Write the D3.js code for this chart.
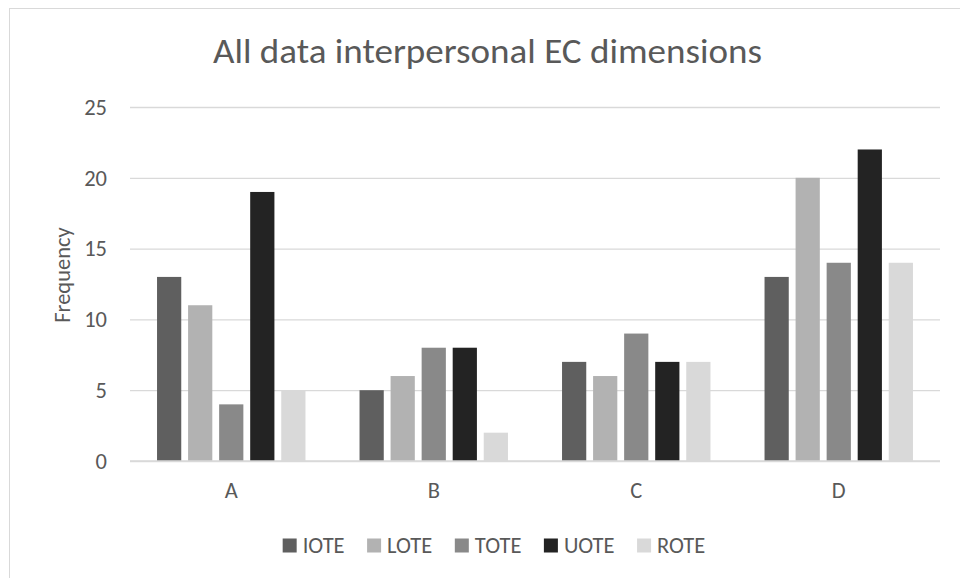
<!DOCTYPE html>
<html>
<head>
<meta charset="utf-8">
<script src="https://cdn.jsdelivr.net/npm/d3@7"></script>
<style>
  html, body { margin: 0; padding: 0; background: #fff; }
  svg { display: block; }
  text { font-family: Calibri, Carlito, Lato, "Open Sans", sans-serif; fill: #595959; }
</style>
</head>
<body>
<svg id="chart" width="960" height="578"></svg>
<script>
// Chart data
const categories = ["A", "B", "C", "D"];
const seriesNames = ["IOTE", "LOTE", "TOTE", "UOTE", "ROTE"];
const IOTE = [13, 5, 7, 13];
const LOTE = [11, 6, 6, 20];
const TOTE = [4, 8, 9, 14];
const UOTE = [19, 8, 7, 22];
const ROTE = [5, 2, 7, 14];
const yTicks = [0, 5, 10, 15, 20, 25];
const seriesColors = ["#5f5f5f", "#b2b2b2", "#898989", "#232323", "#d9d9d9"];

const seriesValues = [IOTE, LOTE, TOTE, UOTE, ROTE];
const rows = categories.map((c, i) => ({
  category: c,
  values: seriesNames.map((s, j) => ({ series: s, value: seriesValues[j][i] }))
}));

const svg = d3.select("#chart");
const labelSize = 22.5;
const fontStack = "Calibri, Carlito, Lato, sans-serif";

// Chart frame
svg.append("rect")
  .attr("x", 9.5).attr("y", 8.5)
  .attr("width", 1000).attr("height", 1000)
  .attr("fill", "none").attr("stroke", "#d9d9d9").attr("stroke-width", 1);

const plot = { left: 130, right: 940, top: 107, bottom: 461 };

const x0 = d3.scaleBand()
  .domain(categories)
  .range([plot.left, plot.right])
  .paddingInner(0.267)
  .paddingOuter(0.1335);

const x1 = d3.scaleBand()
  .domain(seriesNames)
  .range([0, x0.bandwidth()])
  .paddingInner(0.22)
  .paddingOuter(0);

const y = d3.scaleLinear().domain([0, 25]).range([plot.bottom, plot.top]);

const color = d3.scaleOrdinal().domain(seriesNames).range(seriesColors);

// Gridlines and value axis
const yAxis = d3.axisLeft(y)
  .tickValues(yTicks)
  .tickSize(-(plot.right - plot.left))
  .tickPadding(23)
  .tickFormat(d3.format("d"));

const gy = svg.append("g")
  .attr("transform", `translate(${plot.left},0)`)
  .call(yAxis);
gy.select(".domain").remove();
gy.selectAll(".tick line").attr("stroke", "#d9d9d9").attr("stroke-width", 1.3);
gy.selectAll(".tick text")
  .attr("font-size", labelSize)
  .attr("fill", "#595959")
  .style("font-family", fontStack);

// Bars
const groups = svg.append("g").selectAll("g")
  .data(rows)
  .join("g")
  .attr("transform", d => `translate(${x0(d.category)},0)`);

groups.selectAll("rect")
  .data(d => d.values)
  .join("rect")
  .attr("x", d => x1(d.series))
  .attr("y", d => y(d.value))
  .attr("width", x1.bandwidth())
  .attr("height", d => y(0) - y(d.value))
  .attr("fill", d => color(d.series));

// Category axis
const xAxis = d3.axisBottom(x0).tickSize(0).tickPadding(23);
const gx = svg.append("g")
  .attr("transform", `translate(0,${plot.bottom})`)
  .call(xAxis);
gx.select(".domain").attr("stroke", "#d9d9d9").attr("stroke-width", 1.3)
  .attr("d", `M${plot.left},0H${plot.right}`);
gx.selectAll(".tick text")
  .attr("font-size", labelSize)
  .attr("dy", "0.62em")
  .attr("fill", "#595959")
  .style("font-family", fontStack);

// Title
svg.append("text")
  .attr("x", 487.5).attr("y", 63)
  .attr("text-anchor", "middle")
  .attr("font-size", 34)
  .attr("font-weight", 300)
  .attr("textLength", 549)
  .attr("lengthAdjust", "spacingAndGlyphs")
  .text("All data interpersonal EC dimensions");

// Axis title
svg.append("text")
  .attr("transform", "translate(69.5,275) rotate(-90)")
  .attr("text-anchor", "middle")
  .attr("font-size", 22.5)
  .text("Frequency");

// Legend
const legend = svg.append("g");
const items = legend.selectAll("g")
  .data(seriesNames)
  .join("g");
items.append("rect")
  .attr("width", 14).attr("height", 14)
  .attr("y", -7)
  .attr("fill", d => color(d));
items.append("text")
  .attr("x", 20).attr("y", 0)
  .attr("dy", "0.32em")
  .attr("font-size", labelSize)
  .text(d => d);
const itemGap = 22.5;
let cx = 0;
items.each(function () {
  const g = d3.select(this);
  g.attr("transform", `translate(${cx},0)`);
  cx += 20 + g.select("text").node().getComputedTextLength() + itemGap;
});
const legendWidth = cx - itemGap;
legend.attr("transform", `translate(${494 - legendWidth / 2},545.5)`);
</script>
</body>
</html>
